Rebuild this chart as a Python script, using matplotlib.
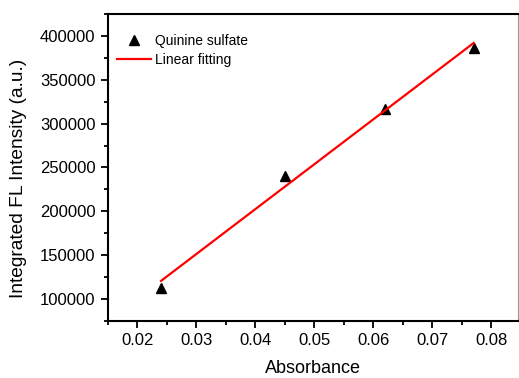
import numpy as np
import matplotlib
matplotlib.use("Agg")
import matplotlib.pyplot as plt
from matplotlib.ticker import MultipleLocator, AutoMinorLocator

plt.rcParams['font.family'] = ['Liberation Sans', 'DejaVu Sans']

# absorbance vs integrated fluorescence of the quinine sulfate standard
absorbance = [0.024, 0.045, 0.062, 0.077]
intensity = [113000, 240000, 317000, 386000]

# least-squares line through the standard
slope, intercept = np.polyfit(absorbance, intensity, 1)
fit_x = np.array([min(absorbance), max(absorbance)])
fit_y = slope * fit_x + intercept

fig = plt.figure(figsize=(5.19, 3.78), dpi=100)
ax = fig.add_axes([0.208, 0.151, 0.79, 0.812])

ax.plot(absorbance, intensity, linestyle='none', marker='^', color='black',
        markersize=6.5, label='Quinine sulfate')
ax.plot(fit_x, fit_y, color='red', linewidth=1.6, label='Linear fitting')

ax.set_xlim(0.015, 0.0845)
ax.set_ylim(75000, 425000)
ax.xaxis.set_major_locator(MultipleLocator(0.01))
ax.yaxis.set_major_locator(MultipleLocator(50000))
ax.xaxis.set_minor_locator(AutoMinorLocator(2))
ax.yaxis.set_minor_locator(AutoMinorLocator(2))
ax.xaxis.set_major_formatter(plt.FuncFormatter(lambda v, p: f"{v:.2f}"))

ax.tick_params(which='both', direction='out', width=1.3, labelsize=12,
               top=False, right=False)
ax.tick_params(which='major', length=5, pad=4)
ax.tick_params(which='minor', length=3)

for side in ['left', 'bottom', 'top']:
    ax.spines[side].set_linewidth(1.5)
ax.spines['right'].set_linewidth(0.8)
ax.spines['right'].set_color('#999999')

ax.set_xlabel('Absorbance', fontsize=13, labelpad=8.5)
ax.set_ylabel('Integrated FL Intensity (a.u.)', fontsize=13.8)
ax.yaxis.set_label_coords(-0.197, 0.466)

ax.legend(loc='upper left', bbox_to_anchor=(-0.005, 0.97), frameon=False,
          fontsize=10, handlelength=2.45, borderaxespad=0.4,
          labelspacing=0.35, handletextpad=0.3)

fig.savefig('out.png', dpi=100)
